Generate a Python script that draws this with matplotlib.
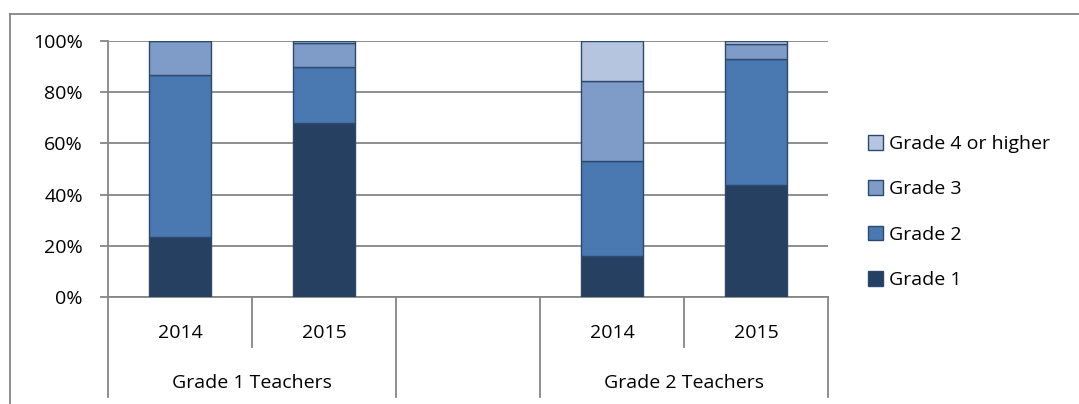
import matplotlib as mpl
mpl.use('Agg')
import matplotlib.pyplot as plt
import numpy as np

years = ['2014', '2015', '', '2014', '2015']
groups = ['Grade 1 Teachers', 'Grade 2 Teachers']
series = ['Grade 1', 'Grade 2', 'Grade 3', 'Grade 4 or higher']
nan = np.nan
grade1 = [23.3, 67.8, nan, 16.1, 43.8]
grade2 = [63.3, 22.2, nan, 37.0, 49.2]
grade3 = [13.4, 9.1, nan, 31.2, 5.8]
grade4 = [0.0, 0.9, nan, 15.7, 1.2]
colors = ['#254061', '#4A78B0', '#7F9CC8', '#B5C5E0']

plt.rcParams['font.family'] = ['Open Sans', 'DejaVu Sans']
fs = 14

W, H = 1079, 404
fig = plt.figure(figsize=(W / 100, H / 100), dpi=100)
ax = fig.add_axes([108 / W, (H - 297) / H, 720 / W, 256 / H])

x = np.arange(len(years))
bottom = np.zeros(len(years))
handles = []
for name, vals, c in zip(series, [grade1, grade2, grade3, grade4], colors):
    vals = np.array(vals)
    b = ax.bar(x, vals, 0.43, bottom=bottom, color=c, edgecolor='#2C4A6E',
               linewidth=1.0, label=name, zorder=3)
    handles.append(b)
    bottom += np.nan_to_num(vals)

ax.set_xlim(-0.5, 4.5)
ax.set_ylim(0, 100)
ax.set_yticks(np.arange(0, 101, 20))
ax.set_yticklabels(['%d%%' % v for v in range(0, 101, 20)], fontsize=fs)
ax.yaxis.grid(True, color='#868686', linewidth=1.3, zorder=0)
ax.tick_params(axis='y', length=6, width=1.3, color='#868686', pad=12)
ax.set_xticks([])
for s in ['top', 'right']:
    ax.spines[s].set_visible(False)
for s in ['left', 'bottom']:
    ax.spines[s].set_color('#868686')
    ax.spines[s].set_linewidth(1.3)

# multi-level category axis
row = 50 / 256.
trans = ax.get_xaxis_transform()
for i, yr in enumerate(years):
    if yr:
        ax.text(i, -36 / 256., yr, transform=trans, ha='center', va='center', fontsize=fs)
for gi, g in enumerate(groups):
    ax.text(gi * 3 + 0.5, -86 / 256., g, transform=trans, ha='center', va='center', fontsize=fs)
for xb in [-0.5, 1.5, 2.5, 4.5]:
    ax.plot([xb, xb], [0, -2 * row], transform=trans, color='#868686', lw=1.3, clip_on=False)
for xb in [0.5, 3.5]:
    ax.plot([xb, xb], [0, -row], transform=trans, color='#868686', lw=1.3, clip_on=False)

# chart border
fig.add_artist(plt.Line2D([10 / W, 1], [1 - 14 / H, 1 - 14 / H], color='#868686', lw=1.3))
fig.add_artist(plt.Line2D([10 / W, 10 / W], [0, 1 - 14 / H], color='#868686', lw=1.3))

leg = fig.legend(handles[::-1], series[::-1], loc='center left',
                 bbox_to_anchor=(850 / W, 1 - 212 / H), frameon=False,
                 fontsize=fs, labelspacing=1.4, handlelength=0.8,
                 handleheight=0.8, handletextpad=0.3)

fig.savefig('out.png', dpi=100)
